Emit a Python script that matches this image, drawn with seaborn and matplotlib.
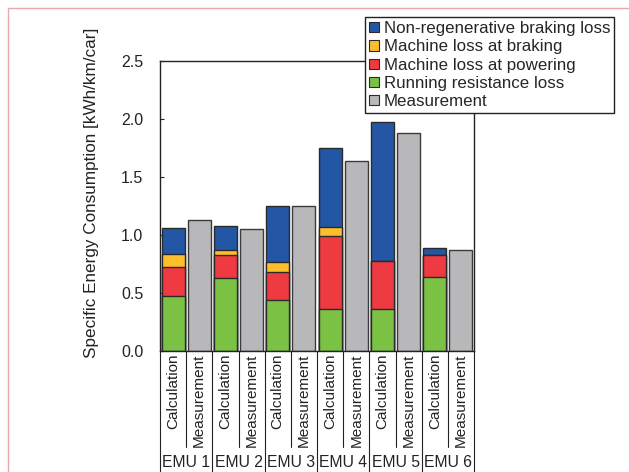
import numpy as np
import pandas as pd
import matplotlib.pyplot as plt
import seaborn as sns
from matplotlib.patches import Patch, Rectangle
import matplotlib.transforms as mtransforms

sns.set_theme(style="white")
plt.rcParams['font.family'] = ['Liberation Sans', 'DejaVu Sans']

# data (kWh/km/car)
emus = ["EMU 1", "EMU 2", "EMU 3", "EMU 4", "EMU 5", "EMU 6"]
running = [0.47, 0.63, 0.44, 0.36, 0.36, 0.64]
powering = [0.25, 0.20, 0.24, 0.63, 0.42, 0.19]
braking = [0.12, 0.04, 0.09, 0.08, 0.0, 0.0]
nonregen = [0.22, 0.21, 0.48, 0.68, 1.19, 0.06]
measurement = [1.13, 1.05, 1.25, 1.64, 1.88, 0.87]

labels = ["Non-regenerative braking loss", "Machine loss at braking",
          "Machine loss at powering", "Running resistance loss", "Measurement"]
colors = ["#2456a6", "#fdbe2c", "#ee3a40", "#7bc143", "#b8b8ba"]
edge = "#2a2a2a"

order = []
for e in emus:
    order += [e + " Calculation", e + " Measurement"]

calc = pd.DataFrame({
    "bar": [e + " Calculation" for e in emus],
    "running": running, "powering": powering,
    "braking": braking, "nonregen": nonregen,
})
calc["c1"] = calc["running"]
calc["c2"] = calc["c1"] + calc["powering"]
calc["c3"] = calc["c2"] + calc["braking"]
calc["c4"] = calc["c3"] + calc["nonregen"]
meas = pd.DataFrame({"bar": [e + " Measurement" for e in emus], "value": measurement})

fig = plt.figure(figsize=(6.29, 4.72), dpi=100)
ax = fig.add_axes([160 / 629, 121 / 472, 314 / 629, 290 / 472])

# stacked calculation bars: draw totals first, smaller cumulative sums on top
for col, c in zip(["c4", "c3", "c2", "c1"], colors[:4]):
    sns.barplot(data=calc, x="bar", y=col, order=order, color=c, width=0.88,
                edgecolor=edge, linewidth=1.0, saturation=1, ax=ax)
sns.barplot(data=meas, x="bar", y="value", order=order, color=colors[4], width=0.88,
            edgecolor="#3a3a3a", linewidth=1.0, saturation=1, ax=ax)

ax.set_xlim(-0.5, 11.5)
ax.set_ylim(0, 2.5)
ax.set_yticks(np.arange(0, 2.51, 0.5))
ax.set_yticklabels([f"{v:.1f}" for v in np.arange(0, 2.51, 0.5)])
ax.tick_params(axis="y", direction="in", length=3, width=0.8, pad=12,
               labelsize=11.5, left=True, colors="#222222")
ax.tick_params(axis="x", length=0, labelbottom=False)
ax.set_xlabel("")
ax.set_ylabel("Specific Energy Consumption [kWh/km/car]", fontsize=12.3, color="#222222")
ax.yaxis.set_label_coords(-0.195, 0.545)
for s in ax.spines.values():
    s.set_color("#222222")
    s.set_linewidth(1.0)

# table-like x labels under the axis
trans = mtransforms.blended_transform_factory(ax.transData, ax.transAxes)
for k, e in enumerate(emus):
    ax.text(2 * k, -0.008, "Calculation", rotation=90, ha="center", va="top",
            fontsize=11, transform=trans, color="#222222")
    ax.text(2 * k + 1, -0.008, "Measurement", rotation=90, ha="center", va="top",
            fontsize=11, transform=trans, color="#222222")
    ax.text(2 * k + 0.5, -0.385, e, ha="center", va="center",
            fontsize=11.3, transform=trans, color="#222222")
    ax.plot([2 * k + 0.5, 2 * k + 0.5], [0, -0.331], transform=trans,
            color="#222222", lw=0.8, clip_on=False)
for k in range(7):
    ax.plot([2 * k - 0.5, 2 * k - 0.5], [0, -0.42], transform=trans,
            color="#222222", lw=0.8, clip_on=False)

handles = [Patch(facecolor=c, edgecolor=edge, linewidth=0.8) for c in colors]
leg = fig.legend(handles, labels, loc="upper left", bbox_to_anchor=(365 / 629, 455 / 472),
                 fontsize=12.2, frameon=True, fancybox=False, framealpha=1,
                 edgecolor="#222222", handlelength=0.55, handleheight=0.55,
                 handletextpad=0.3, labelspacing=0.19, borderpad=0.25,
                 borderaxespad=0)
leg.get_frame().set_linewidth(1.0)

# light pink frame around the figure
fig.patches.append(Rectangle((8 / 629, -0.1), 1.2, (464 / 472) + 0.1,
                             transform=fig.transFigure, fill=False,
                             edgecolor="#e9a8b0", lw=1.0))

fig.savefig("out.png", dpi=100)
